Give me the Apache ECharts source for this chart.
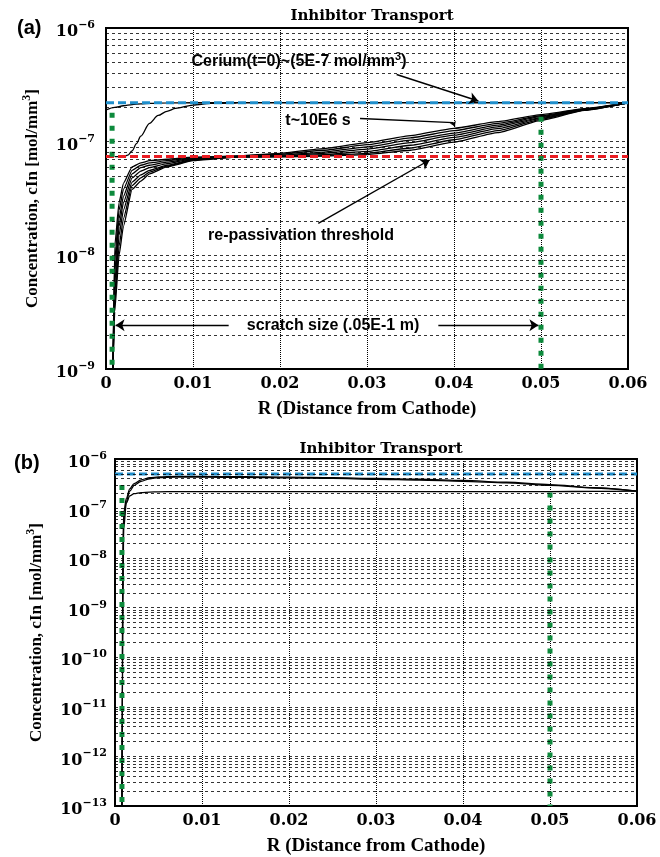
<!DOCTYPE html>
<html>
<head>
<meta charset="utf-8">
<script src="https://cdn.jsdelivr.net/npm/echarts@6/dist/echarts.min.js"></script>
<style>
html,body{margin:0;padding:0;background:#fff}
#main{width:660px;height:857px}
</style>
</head>
<body>
<div id="main"></div>
<script>
// panel (a) - R values and concentration curves
var xA = [0.0008, 0.001, 0.0015, 0.002, 0.003, 0.004, 0.005, 0.007, 0.01, 0.015, 0.02, 0.025, 0.03, 0.035, 0.04, 0.045, 0.05, 0.055, 0.06];
var curveA1 = [1e-9, 1.2e-8, 2.9e-8, 4.3e-8, 6.0e-8, 6.5e-8, 6.8e-8, 7.0e-8, 7.3e-8, 7.5e-8, 7.9e-8, 8.7e-8, 9.8e-8, 1.13e-7, 1.31e-7, 1.5e-7, 1.73e-7, 1.95e-7, 2.2e-7];
var curveA2 = [1e-9, 9e-9, 2.5e-8, 3.8e-8, 5.6e-8, 6.2e-8, 6.5e-8, 6.8e-8, 7.25e-8, 7.45e-8, 7.75e-8, 8.4e-8, 9.4e-8, 1.08e-7, 1.25e-7, 1.45e-7, 1.69e-7, 1.94e-7, 2.2e-7];
var curveA3 = [1e-9, 7e-9, 2.1e-8, 3.3e-8, 5.2e-8, 5.9e-8, 6.2e-8, 6.6e-8, 7.2e-8, 7.4e-8, 7.6e-8, 8.1e-8, 9.0e-8, 1.03e-7, 1.19e-7, 1.4e-7, 1.66e-7, 1.93e-7, 2.2e-7];
var curveA4 = [1e-9, 5.5e-9, 1.8e-8, 2.9e-8, 4.8e-8, 5.5e-8, 5.9e-8, 6.4e-8, 7.1e-8, 7.4e-8, 7.5e-8, 7.9e-8, 8.6e-8, 9.8e-8, 1.14e-7, 1.35e-7, 1.63e-7, 1.92e-7, 2.2e-7];
var curveA5 = [1e-9, 4.5e-9, 1.5e-8, 2.5e-8, 4.4e-8, 5.1e-8, 5.6e-8, 6.2e-8, 7.0e-8, 7.35e-8, 7.45e-8, 7.7e-8, 8.2e-8, 9.3e-8, 1.09e-7, 1.3e-7, 1.6e-7, 1.91e-7, 2.2e-7];
var curveA6 = [1e-9, 3.8e-9, 1.2e-8, 2.1e-8, 4.1e-8, 4.8e-8, 5.4e-8, 6.1e-8, 6.9e-8, 7.3e-8, 7.4e-8, 7.55e-8, 7.9e-8, 8.8e-8, 1.04e-7, 1.25e-7, 1.57e-7, 1.9e-7, 2.2e-7];
var curveA7 = [1e-9, 3.2e-9, 1.0e-8, 1.8e-8, 3.8e-8, 4.5e-8, 5.2e-8, 6.0e-8, 6.8e-8, 7.3e-8, 7.35e-8, 7.45e-8, 7.7e-8, 8.4e-8, 9.9e-8, 1.2e-7, 1.54e-7, 1.89e-7, 2.2e-7];
var xTopA = [0, 0.001, 0.002, 0.003, 0.004, 0.005, 0.007, 0.01, 0.02, 0.03, 0.04, 0.05, 0.06];
var topA = [1.9e-7, 2.0e-7, 2.07e-7, 2.12e-7, 2.15e-7, 2.17e-7, 2.19e-7, 2.2e-7, 2.2e-7, 2.2e-7, 2.2e-7, 2.2e-7, 2.2e-7];
var xRiseA = [0.001, 0.002, 0.0025, 0.003, 0.0035, 0.004, 0.005, 0.006, 0.007, 0.008, 0.01, 0.012, 0.015];
var riseA = [7.4e-8, 7.4e-8, 7.6e-8, 8.3e-8, 9.6e-8, 1.12e-7, 1.45e-7, 1.7e-7, 1.85e-7, 1.96e-7, 2.1e-7, 2.17e-7, 2.2e-7];
var ceriumA = 2.2e-7;      // blue dashed
var thresholdA = 7.4e-8;   // red dashed
var scratchXA = [0.0007, 0.05];
var scratchTopA = [1.8e-7, 1.66e-7];

// panel (b)
var xB = [0.0008, 0.00085, 0.0009, 0.001, 0.0013, 0.0017, 0.0022, 0.003, 0.004, 0.005, 0.007, 0.01, 0.015, 0.02, 0.025, 0.03, 0.035, 0.04, 0.045, 0.05, 0.055, 0.06];
var curveB1 = [1e-13, 1e-10, 1e-8, 8e-8, 1.6e-7, 2.5e-7, 3.2e-7, 3.8e-7, 4.2e-7, 4.35e-7, 4.45e-7, 4.45e-7, 4.4e-7, 4.3e-7, 4.2e-7, 4.05e-7, 3.9e-7, 3.7e-7, 3.4e-7, 3.05e-7, 2.65e-7, 2.25e-7];
var curveB2 = [1e-13, 5e-11, 5e-9, 6e-8, 1.4e-7, 2.25e-7, 2.95e-7, 3.55e-7, 4.0e-7, 4.2e-7, 4.3e-7, 4.3e-7, 4.25e-7, 4.15e-7, 4.05e-7, 3.9e-7, 3.75e-7, 3.55e-7, 3.3e-7, 2.95e-7, 2.6e-7, 2.25e-7];
var curveB3 = [1e-13, 1e-11, 1e-9, 4e-8, 1.3e-7, 1.8e-7, 2.0e-7, 2.1e-7, 2.15e-7, 2.18e-7, 2.2e-7, 2.2e-7, 2.2e-7, 2.2e-7, 2.2e-7, 2.2e-7, 2.2e-7, 2.2e-7, 2.2e-7, 2.2e-7, 2.22e-7, 2.25e-7];
var ceriumB = 5e-7;
var scratchXB = [0.0008, 0.05];
var scratchTopB = [3e-7, 2.1e-7];

var decadesA = [-9, -8, -7];
var decadesB = [-13, -12, -11, -10, -9, -8, -7];
var mantissas = [2, 3, 4, 5, 6, 7, 8, 9];

var serifB = 'DejaVu Serif';
var blue = '#1f8ecb', red = '#ea1c22', green = '#0d8a3c';

function pairs(xs, ys) {
    var out = [];
    for (var i = 0; i < xs.length; i++) out.push([xs[i], ys[i]]);
    return out;
}
// log minor grid lines, 2..9 x each decade, across the whole R range
function minorLines(decs) {
    var out = [];
    for (var i = 0; i < decs.length; i++) {
        for (var j = 0; j < mantissas.length; j++) {
            var v = mantissas[j] * Math.pow(10, decs[i]);
            out.push([{coord: [0, v]}, {coord: [0.06, v]}]);
        }
    }
    return out;
}
function curve(idx, xs, ys, sm) {
    return {
        type: 'line', xAxisIndex: idx, yAxisIndex: idx, data: pairs(xs, ys),
        showSymbol: false, smooth: sm, smoothMonotone: 'x', z: 3, silent: true,
        lineStyle: {color: '#000', width: 1.3}
    };
}
function refLine(idx, data, color, width, dash) {
    return {
        type: 'line', xAxisIndex: idx, yAxisIndex: idx, data: data,
        showSymbol: false, z: 4, silent: true,
        lineStyle: {color: color, width: width, type: dash}
    };
}
// invisible holder series for mark lines
function holder(idx, anchor, z, markLine) {
    return {
        type: 'line', xAxisIndex: idx, yAxisIndex: idx, data: [anchor], z: z, silent: true,
        showSymbol: false, symbolSize: 0, lineStyle: {opacity: 0}, markLine: markLine
    };
}

function xAxisOf(idx) {
    return {
        type: 'value', gridIndex: idx, min: 0, max: 0.06, interval: 0.01,
        axisLine: {show: false}, axisTick: {show: false},
        splitLine: {show: true, lineStyle: {color: '#000', type: 'dotted', width: 1}},
        axisLabel: {
            margin: 7, color: '#000', fontFamily: serifB, fontWeight: 'bold', fontSize: 16,
            formatter: function (v) { return v === 0 ? '0' : v.toFixed(2); }
        },
        name: 'R (Distance from Cathode)', nameLocation: 'middle', nameGap: 31,
        nameTextStyle: {color: '#000', fontFamily: 'Liberation Serif', fontWeight: 'bold', fontSize: 19}
    };
}
function yAxisOf(idx, min, max, gap, lmargin) {
    return {
        type: 'log', logBase: 10, gridIndex: idx, min: min, max: max,
        axisLine: {show: false}, axisTick: {show: false},
        splitLine: {show: true, lineStyle: {color: '#000', type: [3, 3], width: 0.8}},
        axisLabel: {
            margin: lmargin, color: '#000',
            formatter: function (v) {
                var e = Math.round(Math.log(v) / Math.LN10);
                return '{b|10}{s|\u2212' + Math.abs(e) + '}';
            },
            rich: {
                b: {fontFamily: serifB, fontWeight: 'bold', fontSize: 16, color: '#000', padding: [8, 0, 0, 0]},
                s: {fontFamily: serifB, fontWeight: 'bold', fontSize: 11, color: '#000', padding: [0, 0, 6, 0]}
            }
        },
        name: 'Concentration, cIn [mol/mm{s|3}]', nameLocation: 'middle', nameGap: gap, nameRotate: 90,
        nameTextStyle: {
            color: '#000', fontFamily: 'Liberation Serif', fontWeight: 'bold', fontSize: 17,
            rich: {s: {fontFamily: 'Liberation Serif', fontWeight: 'bold', fontSize: 12, color: '#000', padding: [0, 0, 12, 0]}}
        }
    };
}

var gridDash = {color: '#000', type: [3, 3], width: 0.8};
var arrowStyle = {color: '#000', width: 1.4, type: 'solid'};

var option = {
    animation: false,
    title: [
        {text: 'Inhibitor Transport', left: 367, top: 4, textAlign: 'center',
         textStyle: {fontFamily: serifB, fontWeight: 'bold', fontSize: 15, color: '#000'}},
        {text: 'Inhibitor Transport', left: 376, top: 437, textAlign: 'center',
         textStyle: {fontFamily: serifB, fontWeight: 'bold', fontSize: 15, color: '#000'}}
    ],
    grid: [
        {left: 106, top: 28, width: 522, height: 341, show: true, borderColor: '#000', borderWidth: 2, backgroundColor: 'transparent'},
        {left: 115, top: 459, width: 522, height: 347, show: true, borderColor: '#000', borderWidth: 2, backgroundColor: 'transparent'}
    ],
    xAxis: [xAxisOf(0), xAxisOf(1)],
    yAxis: [yAxisOf(0, 1e-9, 1e-6, 61, 11), yAxisOf(1, 1e-13, 1e-6, 66, 8)],
    graphic: [
        {type: 'text', x: 17, y: 28, style: {text: '(a)', font: 'bold 20px "Liberation Sans"', fill: '#000', textVerticalAlign: 'middle', verticalAlign: 'middle'}},
        {type: 'text', x: 14, y: 463, style: {text: '(b)', font: 'bold 20px "Liberation Sans"', fill: '#000', textVerticalAlign: 'middle', verticalAlign: 'middle'}},
        {type: 'text', x: 299, y: 62, z: 10, style: {
            text: 'Cerium(t=0)~(5E-7 mol/mm{s|3})', fontFamily: 'Liberation Sans', fontWeight: 'bold', fontSize: 16, fill: '#000',
            textAlign: 'center', align: 'center', textVerticalAlign: 'middle', verticalAlign: 'middle',
            rich: {s: {fontFamily: 'Liberation Sans', fontWeight: 'bold', fontSize: 11, fill: '#000', padding: [0, 0, 11, 0]}}
        }},
        {type: 'text', x: 318, y: 121, z: 10, style: {
            text: 't~10E6 s', font: 'bold 16px "Liberation Sans"', fill: '#000',
            textAlign: 'center', align: 'center', textVerticalAlign: 'middle', verticalAlign: 'middle'
        }},
        {type: 'text', x: 301, y: 236, z: 10, style: {
            text: 're-passivation threshold', font: 'bold 16px "Liberation Sans"', fill: '#000',
            textAlign: 'center', align: 'center', textVerticalAlign: 'middle', verticalAlign: 'middle'
        }},
        {type: 'text', x: 333, y: 326, z: 10, style: {
            text: 'scratch size (.05E-1 m)', font: 'bold 16px "Liberation Sans"', fill: '#000',
            textAlign: 'center', align: 'center', textVerticalAlign: 'middle', verticalAlign: 'middle'
        }}
    ],
    series: [
        // minor grid lines
        holder(0, [0.03, 1e-7], 1, {silent: true, symbol: 'none', label: {show: false}, animation: false,
                                    lineStyle: gridDash, data: minorLines(decadesA)}),
        holder(1, [0.03, 1e-7], 1, {silent: true, symbol: 'none', label: {show: false}, animation: false,
                                    lineStyle: gridDash, data: minorLines(decadesB)}),
        // panel (a) curves
        curve(0, xA, curveA1, 0.15), curve(0, xA, curveA2, 0.15), curve(0, xA, curveA3, 0.15), curve(0, xA, curveA4, 0.15),
        curve(0, xA, curveA5, 0.15), curve(0, xA, curveA6, 0.15), curve(0, xA, curveA7, 0.15),
        curve(0, xTopA, topA, 0.3), curve(0, xRiseA, riseA, 0.3),
        // panel (a) reference lines
        refLine(0, [[0, ceriumA], [0.06, ceriumA]], blue, 3, [8, 4]),
        refLine(0, [[0, thresholdA], [0.06, thresholdA]], red, 3, [8, 4]),
        refLine(0, [[scratchXA[0], scratchTopA[0]], [scratchXA[0], 1e-9]], green, 5, [5, 8]),
        refLine(0, [[scratchXA[1], scratchTopA[1]], [scratchXA[1], 1e-9]], green, 5, [5, 8]),
        // annotation arrows
        holder(0, [0.03, 1e-7], 6, {silent: true, label: {show: false}, animation: false, symbolSize: 9,
            lineStyle: arrowStyle,
            data: [
                [{coord: [0.0334, 3.9e-7], symbol: 'none'}, {coord: [0.0428, 2.28e-7], symbol: 'arrow'}],
                [{coord: [0.0292, 1.6e-7], symbol: 'none'}, {coord: [0.0399, 1.47e-7], symbol: 'none'}],
                [{coord: [0.0399, 1.47e-7], symbol: 'none'}, {coord: [0.0401, 1.36e-7], symbol: 'arrow', symbolSize: 5}],
                [{coord: [0.0244, 1.91e-8], symbol: 'none'}, {coord: [0.0372, 6.9e-8], symbol: 'arrow'}],
                [{coord: [0.0141, 2.43e-9], symbol: 'none'}, {coord: [0.0011, 2.43e-9], symbol: 'arrow'}],
                [{coord: [0.0382, 2.43e-9], symbol: 'none'}, {coord: [0.0497, 2.43e-9], symbol: 'arrow'}]
            ]}),
        // panel (b) curves
        curve(1, xB, curveB1, 0.3), curve(1, xB, curveB2, 0.3), curve(1, xB, curveB3, 0.3),
        refLine(1, [[0, ceriumB], [0.06, ceriumB]], blue, 3, [8, 4]),
        refLine(1, [[scratchXB[0], scratchTopB[0]], [scratchXB[0], 1e-13]], green, 5, [5, 8]),
        refLine(1, [[scratchXB[1], scratchTopB[1]], [scratchXB[1], 1e-13]], green, 5, [5, 8])
    ]
};

var myChart = echarts.init(document.getElementById('main'));
myChart.setOption(option);
</script>
</body>
</html>
